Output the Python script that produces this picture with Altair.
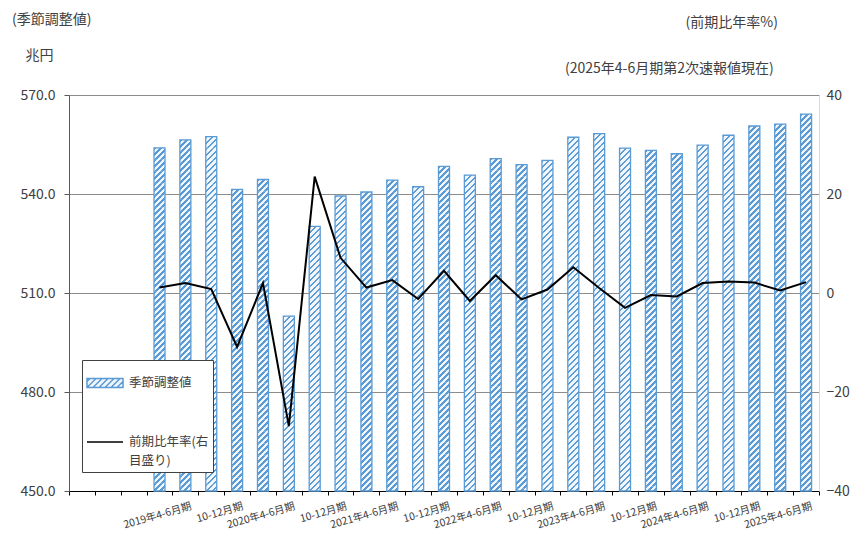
import json
import altair as alt
import pandas as pd

FONT = "Noto Sans CJK JP"
TEXT = "#404040"
BLUE = "#5b9bd5"
PALE = "#f0f6fc"

# ---- data -----------------------------------------------------------------
categories = [
    "2018年4-6月期", "2018年7-9月期", "2018年10-12月期",
    "2019年1-3月期", "2019年4-6月期", "2019年7-9月期", "2019年10-12月期",
    "2020年1-3月期", "2020年4-6月期", "2020年7-9月期", "2020年10-12月期",
    "2021年1-3月期", "2021年4-6月期", "2021年7-9月期", "2021年10-12月期",
    "2022年1-3月期", "2022年4-6月期", "2022年7-9月期", "2022年10-12月期",
    "2023年1-3月期", "2023年4-6月期", "2023年7-9月期", "2023年10-12月期",
    "2024年1-3月期", "2024年4-6月期", "2024年7-9月期", "2024年10-12月期",
    "2025年1-3月期", "2025年4-6月期",
]
tick_labels = [
    "", "", "",
    "", "2019年4-6月期", "", "10-12月期",
    "", "2020年4-6月期", "", "10-12月期",
    "", "2021年4-6月期", "", "10-12月期",
    "", "2022年4-6月期", "", "10-12月期",
    "", "2023年4-6月期", "", "10-12月期",
    "", "2024年4-6月期", "", "10-12月期",
    "", "2025年4-6月期",
]
# 季節調整値 (兆円)
gdp = [
    None, None, None,
    554.0, 556.4, 557.4, 541.4,
    544.4, 503.0, 530.2, 539.4,
    540.6, 544.2, 542.2, 548.4,
    545.7, 550.7, 548.9, 550.2,
    557.2, 558.3, 553.9, 553.2,
    552.2, 554.8, 557.8, 560.6,
    561.2, 564.2,
]
# 前期比年率 (%)
rate = [
    None, None, None,
    1.1, 2.0, 0.8, -10.9,
    2.0, -26.9, 23.5, 7.1,
    1.1, 2.6, -1.2, 4.5,
    -1.6, 3.6, -1.3, 0.7,
    5.2, 1.0, -3.0, -0.4,
    -0.7, 2.0, 2.3, 2.1,
    0.5, 2.2,
]
series_names = ["季節調整値", "前期比年率(右目盛り)"]
left_ticks = [450, 480, 510, 540, 570]
right_ticks = [-40, -20, 0, 20, 40]

bar_df = pd.DataFrame({"category": categories, "value": gdp})
line_df = pd.DataFrame({"category": categories, "rate": rate})
legend_df = pd.DataFrame({"series": series_names, "dummy": [None, None]})

# ---- geometry / styles ----------------------------------------------------
PLOT_W, PLOT_H = 750, 396
BAR_W = 11
PERIOD = 6
SEG_PX = 2 * PERIOD
seg_units = SEG_PX / (PLOT_H / (left_ticks[-1] - left_ticks[0]))


def hatch(w, h, period, thick, fg, bg):
    L = w + h
    stops = []
    k = 0
    while k * period < L:
        a = k * period / L
        b = min((k * period + thick) / L, 1)
        c = min((k + 1) * period / L, 1)
        stops += [
            {"offset": a, "color": fg},
            {"offset": b, "color": fg},
            {"offset": b, "color": bg},
            {"offset": c, "color": bg},
        ]
        k += 1
    d = w * w + h * h
    return {"gradient": "linear", "x1": 0, "y1": 0,
            "x2": w * L / d, "y2": h * L / d, "stops": stops}


def hatched_symbol(half_h=0.25, step=1 / 3):
    parts = [f"M-1,{-half_h}H1V{half_h}H-1Z"]
    span = 2 * half_h
    x0 = -1 - span + step / 2
    while x0 < 1:
        s0 = max(0.0, (-1 - x0) / span)
        s1 = min(1.0, (1 - x0) / span)
        if s0 < s1:
            xa, ya = x0 + span * s0, half_h - span * s0
            xb, yb = x0 + span * s1, half_h - span * s1
            parts.append(f"M{xa:.3f},{ya:.3f}L{xb:.3f},{yb:.3f}")
        x0 += step
    return "".join(parts)


bar_fill = hatch(BAR_W, SEG_PX, PERIOD, 2.3, BLUE, PALE)
BAR_SYMBOL = hatched_symbol()
LINE_SYMBOL = "M-1,0H1"

label_expr = "{}[indexof({}, datum.value)]".format(
    json.dumps(tick_labels, ensure_ascii=False), json.dumps(categories, ensure_ascii=False)
)

xscale = alt.Scale(domain=categories, paddingInner=0, paddingOuter=0)
yscale = alt.Scale(domain=[left_ticks[0], left_ticks[-1]], nice=False, zero=False)

left_axis = alt.Axis(values=left_ticks, format=".1f", grid=True, gridColor="#8c8c8c",
                     domainColor="#595959", tickColor="#595959", tickSize=5,
                     labelPadding=9, labelFontSize=14, labelColor=TEXT,
                     title="兆円", titleAngle=0, titleAlign="left", titleBaseline="middle",
                     titleX=-44, titleY=-40, titleFontSize=14, titleFontWeight="normal",
                     titleColor=TEXT)

legend = alt.Legend(
    title=None, orient="none", legendX=13, legendY=265, direction="vertical",
    strokeColor="#404040", fillColor="white", padding=4,
    symbolSize=1296, symbolStrokeWidth=1.5, symbolOpacity=1,
    labelFont=FONT, labelFontSize=12.5, labelColor=TEXT, labelOffset=5,
    rowPadding=32, labelLimit=300,
    labelExpr=f"datum.label === '{series_names[1]}' ? ['前期比年率(右', '目盛り)'] : datum.label",
)

x_enc = alt.X("category:N", sort=categories, scale=xscale, title=None,
              axis=alt.Axis(labelExpr=label_expr, labelAngle=344, labelAlign="right",
                            labelBaseline="top", labelFontSize=10.5, labelPadding=6,
                            labelOffset=4, labelOverlap=False, tickBand="extent", tickSize=4,
                            tickColor="#000000", domainColor="#000000", labelColor=TEXT))

stripes = alt.Chart(bar_df).transform_filter("isValid(datum.value)").transform_calculate(
    k=f"sequence(0, ceil((datum.value - {left_ticks[0]}) / {seg_units}))"
).transform_flatten(["k"]).transform_calculate(
    top=f"datum.value - datum.k * {seg_units}",
    bot=f"datum.value - (datum.k + 1) * {seg_units}",
).mark_bar(size=BAR_W, fill=bar_fill, strokeWidth=0, clip=True).encode(
    x=x_enc,
    y=alt.Y("top:Q", scale=yscale, axis=left_axis),
    y2="bot:Q",
)

outline = alt.Chart(bar_df).mark_bar(
    size=BAR_W, fill="transparent", stroke=BLUE, strokeWidth=1.3
).encode(
    x=x_enc,
    y=alt.Y("value:Q", scale=yscale, axis=left_axis),
    y2=alt.datum(left_ticks[0]),
)

legend_layer = alt.Chart(legend_df).mark_point(filled=True).encode(
    y=alt.Y("dummy:Q", scale=yscale, axis=left_axis),
    shape=alt.Shape("series:N", scale=alt.Scale(domain=series_names,
                                                range=[BAR_SYMBOL, LINE_SYMBOL]), legend=legend),
    stroke=alt.Stroke("series:N", scale=alt.Scale(domain=series_names,
                                                  range=[BLUE, "#000000"]), legend=legend),
    fill=alt.Fill("series:N", scale=alt.Scale(domain=series_names,
                                              range=[PALE, "transparent"]), legend=legend),
)

bars = alt.layer(stripes, outline, legend_layer)

line = alt.Chart(line_df).mark_line(strokeWidth=2, color="#000000").encode(
    x=x_enc,
    y=alt.Y("rate:Q", scale=alt.Scale(domain=[right_ticks[0], right_ticks[-1]], nice=False),
            axis=alt.Axis(orient="right", values=right_ticks, grid=False, domainColor="#d9d9d9",
                          ticks=False, labelPadding=7, labelFontSize=14, labelColor=TEXT,
                          title="(前期比年率%)", titleAngle=0, titleAlign="left",
                          titleBaseline="middle", titleX=-134, titleY=-73, titleFontSize=14,
                          titleFontWeight="normal", titleColor=TEXT)),
)

note_left = alt.Chart(pd.DataFrame({"t": ["(季節調整値)"]})).mark_text(
    font=FONT, fontSize=14, color=TEXT, align="left", baseline="middle"
).encode(text="t:N", x=alt.value(-57), y=alt.value(-75))

note_right = alt.Chart(pd.DataFrame({"t": ["(2025年4-6月期第2次速報値現在)"]})).mark_text(
    font=FONT, fontSize=14, color=TEXT, align="left", baseline="middle"
).encode(text="t:N", x=alt.value(496), y=alt.value(-26))

chart = alt.layer(bars, line, note_left, note_right).resolve_scale(
    y="independent"
).properties(
    width=PLOT_W, height=PLOT_H,
    padding={"left": 61, "top": 87, "right": 36, "bottom": 41},
    autosize=alt.AutoSizeParams(type="none"),
).configure(
    style={"guide-label": {"lineHeight": 19}}
).configure_view(strokeWidth=0).configure_axis(
    labelFont=FONT, titleFont=FONT
).configure_legend(labelFont=FONT)

chart.save("out.html", embed_options={"renderer": "svg", "actions": False})
